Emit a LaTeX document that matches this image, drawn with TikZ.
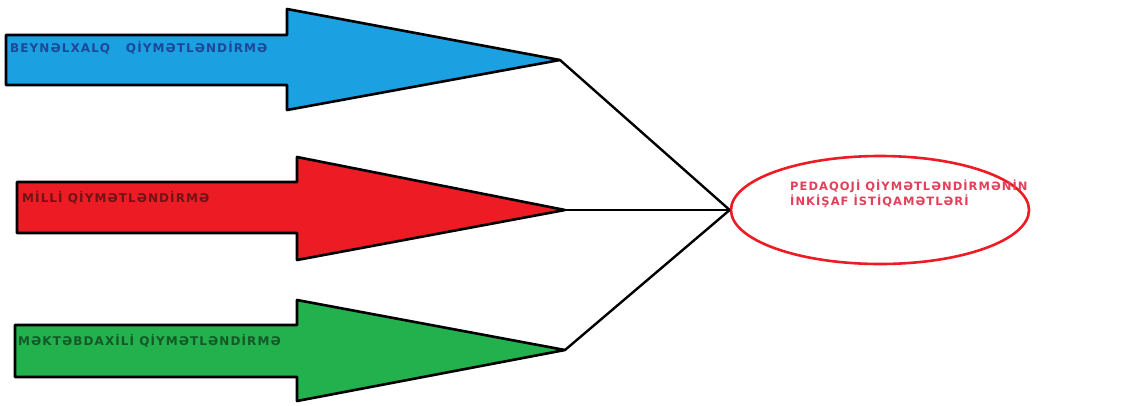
\documentclass[tikz,border=0pt]{standalone}
\usepackage{fontspec}
\setmainfont{DejaVu Sans}
\newfontfamily\yazi[LetterSpace=9]{DejaVu Sans Bold}
\usetikzlibrary{positioning,shapes.geometric}
\definecolor{oxmavi}{RGB}{27,161,226}
\definecolor{oxqirmizi}{RGB}{237,28,36}
\definecolor{oxyasil}{RGB}{34,177,76}
\definecolor{yazimavi}{RGB}{28,72,150}
\definecolor{yaziqirmizi}{RGB}{110,20,22}
\definecolor{yaziyasil}{RGB}{20,88,40}
\definecolor{ellyazi}{RGB}{226,64,90}
\begin{document}
\begin{tikzpicture}[x=1pt,y=-1pt,font=\yazi\fontsize{12}{15}\selectfont,
  ox/.style={draw=black,line width=2.6pt,line join=round},
  lbl/.style={anchor=base west,inner sep=0pt},
  xett/.style={black,line width=2.4pt}]
\useasboundingbox (0,0) rectangle (1131,405);
\draw[ox,fill=oxmavi](6,35)--(287,35)--(287,9)--(560,60)--(287,110)--(287,85)--(6,85)--cycle;
\draw[ox,fill=oxqirmizi](17,182)--(297,182)--(297,157)--(565,210)--(297,260)--(297,233)--(17,233)--cycle;
\draw[ox,fill=oxyasil](15,325)--(297,325)--(297,300)--(565,350)--(297,401)--(297,377)--(15,377)--cycle;
\coordinate(beynuc) at (560,60);
\coordinate(milliuc) at (565,210);
\coordinate(mektebuc) at (565,350);
\node[lbl,text=yazimavi](beyn) at (10,52){BEYNƏLXALQ\ \ \ QİYMƏTLƏNDİRMƏ};
\node[lbl,text=yaziqirmizi](milli) at (22,202){MİLLİ QİYMƏTLƏNDİRMƏ};
\node[lbl,text=yaziyasil](mekteb) at (18,345){MƏKTƏBDAXİLİ QİYMƏTLƏNDİRMƏ};
\node[ellipse,draw=oxqirmizi,line width=2.6pt,minimum width=298pt,minimum height=108pt](inkisaf) at (880,210){};
\node[anchor=north west,inner sep=0pt,align=left,text=ellyazi,font=\yazi\fontsize{11.5}{15}\selectfont](inkisafyazi) at (790,180){PEDAQOJİ QİYMƏTLƏNDİRMƏNİN\\İNKİŞAF İSTİQAMƏTLƏRİ};
\draw[xett](beynuc)--(inkisaf.west);\draw[xett](milliuc)--(inkisaf.west);\draw[xett](mektebuc)--(inkisaf.west);
\end{tikzpicture}
\end{document}
